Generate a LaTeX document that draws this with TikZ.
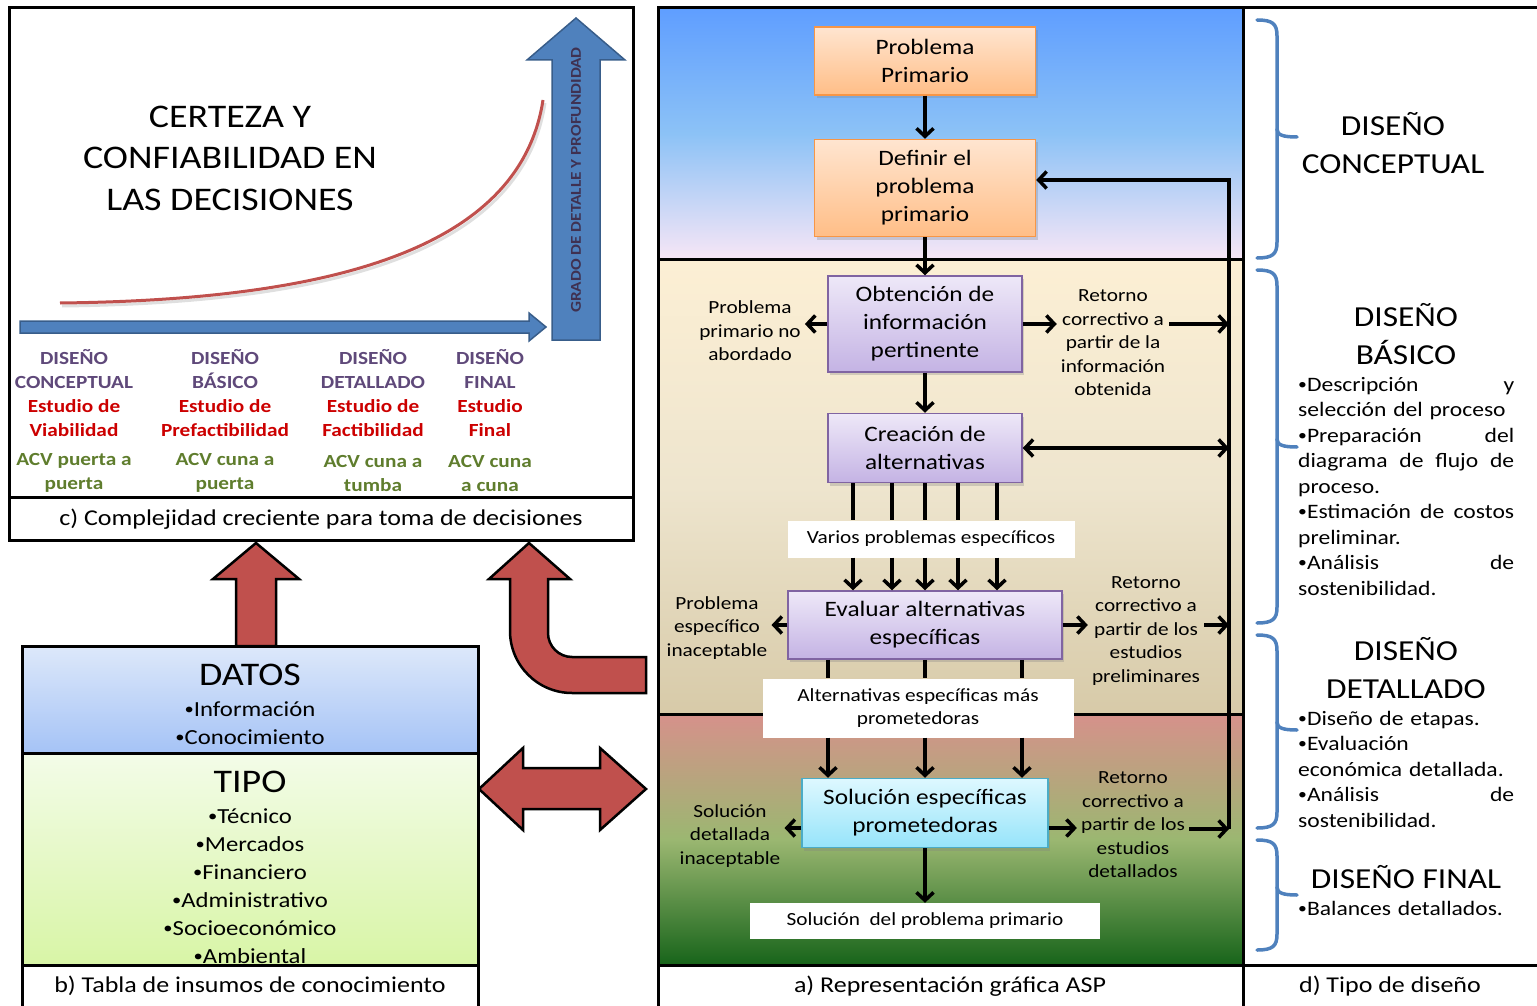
\documentclass[tikz,border=0pt]{standalone}
\usepackage{fontspec}
\setmainfont{Carlito}[FakeStretch=1.15]
\usetikzlibrary{arrows.meta,shadows}

\definecolor{officeblue}{RGB}{79,129,189}
\definecolor{officeblueline}{RGB}{56,93,138}
\definecolor{officered}{RGB}{192,80,77}
\definecolor{labelpurple}{RGB}{95,73,122}
\definecolor{labelred}{RGB}{204,0,0}
\definecolor{labelgreen}{RGB}{95,125,45}
\definecolor{gradepurple}{RGB}{63,49,81}
\definecolor{orangeline}{RGB}{247,150,70}
\definecolor{orangetop}{RGB}{255,229,208}
\definecolor{orangebot}{RGB}{255,190,135}
\definecolor{purpleline}{RGB}{128,100,162}
\definecolor{purpletop}{RGB}{238,232,248}
\definecolor{purplebot}{RGB}{196,179,228}
\definecolor{cyanline}{RGB}{75,172,198}
\definecolor{cyantop}{RGB}{222,248,255}
\definecolor{cyanbot}{RGB}{150,228,250}
\definecolor{skytop}{RGB}{95,158,255}
\definecolor{skymid}{RGB}{140,194,246}
\definecolor{skybot}{RGB}{247,230,246}
\definecolor{sandtop}{RGB}{252,239,212}
\definecolor{sandmid}{RGB}{238,229,206}
\definecolor{sandbot}{RGB}{215,202,168}
\definecolor{rosetop}{RGB}{214,145,139}
\definecolor{grassmid}{RGB}{155,183,113}
\definecolor{grassbot}{RGB}{23,100,26}
\definecolor{datatop}{RGB}{221,232,250}
\definecolor{databot}{RGB}{165,195,246}
\definecolor{typetop}{RGB}{243,252,232}
\definecolor{typebot}{RGB}{216,245,166}

\newcommand{\smallbul}{\raisebox{0.1em}{\scalebox{0.75}{•}}}

\begin{document}
\begin{tikzpicture}[x=1pt, y=-1pt, >={Straight Barb[length=8pt,width=17pt]},
    frame/.style={line width=3pt},
    flow/.style={->, line width=3.5pt},
    link/.style={line width=3.5pt},
    twoway/.style={<->, line width=3.5pt},
    bigarrow/.style={fill=officered, draw=black, line width=2.5pt, line join=miter},
    bluearrow/.style={fill=officeblue, draw=officeblueline, line width=1.5pt},
    brace/.style={draw=officeblue, line width=3.5pt, line cap=round},
    stepbox/.style={rectangle, line width=1.5pt, align=center, inner sep=0pt, font=\fontsize{22}{28}\selectfont, drop shadow={shadow xshift=2pt, shadow yshift=-3pt, opacity=0.3}},
    orangebox/.style={stepbox, draw=orangeline, top color=orangetop, bottom color=orangebot},
    purplebox/.style={stepbox, draw=purpleline, top color=purpletop, bottom color=purplebot},
    cyanbox/.style={stepbox, draw=cyanline, top color=cyantop, bottom color=cyanbot},
    tagbox/.style={rectangle, fill=white, align=center, inner sep=0pt, font=\fontsize{18.5}{23}\selectfont},
    side/.style={align=center, inner sep=4pt, font=\fontsize{18.5}{23.5}\selectfont},
    caption/.style={inner sep=0pt, font=\fontsize{22.6}{26}\selectfont},
    stage/.style={align=center, inner sep=0pt, font=\bfseries\fontsize{18.5}{24}\selectfont},
    heading/.style={align=center, inner sep=0pt, font=\fontsize{29}{37.5}\selectfont},
    bullets/.style={anchor=north west, align=left, text width=216pt, inner sep=0pt, font=\fontsize{20.5}{25.5}\selectfont}]

    \useasboundingbox (0,0) rectangle (1537,1006);
    \clip (0,0) rectangle (1537,1006);

    % Backgrounds.
    \shade[top color=skytop, bottom color=skybot, middle color=skymid] (658,8) rectangle (1243,259);
    \shade[top color=sandtop, bottom color=sandbot, middle color=sandmid] (658,259) rectangle (1243,714);
    \shade[top color=rosetop, bottom color=grassbot, middle color=grassmid] (658,714) rectangle (1243,965);
    \shade[top color=datatop, bottom color=databot] (22,646) rectangle (478,753);
    \shade[top color=typetop, bottom color=typebot] (22,753) rectangle (478,965);

    % Frames.
    \draw[frame] (9,8) rectangle (633,540) (9,497) -- (633,497);
    \draw[frame] (22,646) rectangle (478,1020) (22,753) -- (478,753) (22,965) -- (478,965);
    \draw[frame] (658,8) rectangle (1243,1020);
    \draw[frame] (1243,8) -- (1550,8) (658,259) -- (1243,259) (658,714) -- (1243,714) (658,965) -- (1550,965);

    % Complexity panel.
    \draw[line width=3pt, gray, opacity=0.25] (62,306) .. controls (332,303) and (522,253) .. (545,103);
    \draw[line width=3pt, officered] (60,303) .. controls (330,300) and (520,250) .. (543,100);
    \draw[bluearrow] (20,321) -- (529,321) -- (529,313) -- (546,327) -- (529,341) -- (529,333) -- (20,333) -- cycle;
    \draw[bluearrow] (552,340) -- (552,60) -- (527,60) -- (576,18) -- (625,60) -- (600,60) -- (600,340) -- cycle;
    \node[rotate=90, text=gradepurple, font=\bfseries\fontsize{15}{17}\selectfont] (grade) at (576,180) {GRADO DE DETALLE Y PROFUNDIDAD};
    \node[align=center, font=\fontsize{33}{41.5}\selectfont] (certeza) at (230,158) {CERTEZA Y\\CONFIABILIDAD EN\\LAS DECISIONES};
    \foreach \x/\stagename/\study/\lca in {74/{DISEÑO\\CONCEPTUAL}/{Estudio de\\Viabilidad}/{ACV puerta a\\puerta},
        225/{DISEÑO\\BÁSICO}/{Estudio de\\Prefactibilidad}/{ACV cuna a\\puerta},
        373/{DISEÑO\\DETALLADO}/{Estudio de\\Factibilidad}/{ACV cuna a\\tumba},
        490/{DISEÑO\\FINAL}/{Estudio\\Final}/{ACV cuna\\a cuna}} {
        \node[stage, text=labelpurple] (stage-\x) at (\x,369) {\stagename};
        \node[stage, text=labelred] (study-\x) at (\x,418) {\study};
        \node[stage, text=labelgreen] (lca-\x) at (\x,473) {\lca};
    }
    \node[caption] (cap-c) at (321,519) {c) Complejidad creciente para toma de decisiones};

    % Knowledge table.
    \node[font=\fontsize{33}{35}\selectfont] (datos) at (250,675) {DATOS};
    \node[align=center, font=\fontsize{21.5}{28}\selectfont] (datos-list) at (250,723) {\smallbul Información\\\smallbul Conocimiento};
    \node[font=\fontsize{33}{35}\selectfont] (tipo) at (250,782) {TIPO};
    \node[align=center, font=\fontsize{21.5}{28}\selectfont] (tipo-list) at (250,886) {\smallbul Técnico\\\smallbul Mercados\\\smallbul Financiero\\\smallbul Administrativo\\\smallbul Socioeconómico\\\smallbul Ambiental};
    \node[caption] (cap-b) at (250,986) {b) Tabla de insumos de conocimiento};

    % Big arrows.
    \draw[bigarrow] (236,646) -- (236,579) -- (213,579) -- (256,543) -- (299,579) -- (276,579) -- (276,646) -- cycle;
    \draw[bigarrow] (529,543) -- (570,579) -- (548,579) -- (548,633) .. controls (548,646.2) and (558.8,657) .. (572,657) -- (646,657) -- (646,693) -- (572,693) .. controls (537.8,693) and (510,665.2) .. (510,631) -- (510,579) -- (489,579) -- cycle;
    \draw[bigarrow] (479,789) -- (523,748) -- (523,768) -- (600,768) -- (600,748) -- (646,789) -- (600,830) -- (600,809) -- (523,809) -- (523,830) -- cycle;

    % Flow nodes.
    \node[orangebox, minimum width=221pt, minimum height=68pt] (prob) at (925,61) {Problema\\Primario};
    \node[orangebox, minimum width=221pt, minimum height=97pt] (defin) at (925,188) {Definir el\\problema\\primario};
    \node[purplebox, minimum width=194pt, minimum height=96pt] (obt) at (925,324) {Obtención de\\información\\pertinente};
    \node[purplebox, minimum width=194pt, minimum height=69pt] (crea) at (925,448) {Creación de\\alternativas};
    \node[tagbox, minimum width=287pt, minimum height=37pt] (varios) at (931,539) {Varios problemas específicos};
    \node[purplebox, minimum width=274pt, minimum height=68pt] (eval) at (925,625) {Evaluar alternativas\\específicas};
    \node[tagbox, minimum width=311pt, minimum height=59pt] (alt) at (918,708) {Alternativas específicas más\\prometedoras};
    \node[cyanbox, minimum width=246pt, minimum height=69pt] (sol) at (925,813) {Solución específicas\\prometedoras};
    \node[tagbox, minimum width=350pt, minimum height=36pt] (final) at (925,921) {Solución\ \ del problema primario};

    % Side texts.
    \node[side] (noab) at (750,331) {Problema\\primario no\\abordado};
    \node[side] (ret1) at (1113,343) {Retorno\\correctivo a\\partir de la\\información\\obtenida};
    \node[side] (inac1) at (717,628) {Problema\\específico\\inaceptable};
    \node[side] (ret2) at (1146,631) {Retorno\\correctivo a\\partir de los\\estudios\\preliminares};
    \node[side] (inac2) at (730,836) {Solución\\detallada\\inaceptable};
    \node[side] (ret3) at (1133,825) {Retorno\\correctivo a\\partir de los\\estudios\\detallados};

    % Feedback line.
    \coordinate (fbtop) at (1229,180);
    \coordinate (fbbot) at (1229,829);
    \draw[flow] (fbbot) -- (fbtop) -- (fbtop -| defin.east);

    % Flow connections.
    \draw[flow] (prob) -- (defin);
    \draw[flow] (defin) -- (obt);
    \draw[flow] (obt) -- (crea);
    \draw[flow] (obt.west) -- (obt.west -| noab.east);
    \draw[flow] (obt.east) -- (obt.east -| ret1.west);
    \draw[flow] (ret1.east |- obt.east) -- (fbtop |- obt.east);
    \draw[twoway] (crea.east) -- (fbtop |- crea.east);
    \foreach \dx in {-72,-33,0,33,72} {
        \draw[link] ([xshift=\dx pt]crea.south) -- ([xshift=\dx pt]crea.south |- varios.north);
        \draw[flow] ([xshift=\dx pt]crea.south |- varios.south) -- ([xshift=\dx pt]crea.south |- eval.north);
    }
    \draw[flow] (eval.west) -- (eval.west -| inac1.east);
    \draw[flow] (eval.east) -- (eval.east -| ret2.west);
    \draw[flow] (ret2.east |- eval.east) -- (fbtop |- eval.east);
    \foreach \dx in {-97,0,97} {
        \draw[link] ([xshift=\dx pt]eval.south) -- ([xshift=\dx pt]eval.south |- alt.north);
        \draw[flow] ([xshift=\dx pt]eval.south |- alt.south) -- ([xshift=\dx pt]eval.south |- sol.north);
    }
    \draw[flow] ([yshift=-15pt]sol.west) -- ([yshift=-15pt]sol.west -| inac2.east);
    \draw[flow] ([yshift=-15pt]sol.east) -- ([yshift=-15pt]sol.east -| ret3.west);
    \draw[flow] (ret3.east |- fbbot) -- (fbbot);
    \draw[flow] (sol) -- (final);
    \node[caption] (cap-a) at (950,986) {a) Representación gráfica ASP};

    % Design types.
    \foreach \bracetop/\bracetip/\bracebot in {20/137/258, 270/447/623, 635/730/828, 840/895/950} {
        \draw[brace] (1257,\bracetop) .. controls (1273,\bracetop) and (1277,{\bracetop+4}) .. (1277,{\bracetop+16}) -- (1277,{\bracebot-16}) .. controls (1277,{\bracebot-4}) and (1273,\bracebot) .. (1257,\bracebot);
        \draw[brace] (1277,{\bracetip-8}) .. controls (1277,{\bracetip-2}) and (1283,\bracetip) .. (1297,\bracetip);
    }
    \node[heading] (conceptual) at (1393,143) {DISEÑO\\CONCEPTUAL};
    \node[heading] (basico) at (1406,334) {DISEÑO\\BÁSICO};
    \node[bullets] (basico-list) at (1298,377) {\makebox[216pt]{\smallbul Descripción\hfill y}\\selección del proceso\\\makebox[216pt]{\smallbul Preparación\hfill del}\\\makebox[216pt]{diagrama\hfill de\hfill flujo\hfill de}\\proceso.\\\makebox[216pt]{\smallbul Estimación\hfill de\hfill costos}\\preliminar.\\\makebox[216pt]{\smallbul Análisis\hfill de}\\sostenibilidad.};
    \node[heading] (detallado) at (1406,668) {DISEÑO\\DETALLADO};
    \node[bullets] (detallado-list) at (1298,711) {\smallbul Diseño de etapas.\\\smallbul Evaluación\\económica detallada.\\\makebox[216pt]{\smallbul Análisis\hfill de}\\sostenibilidad.};
    \node[heading] (final-d) at (1406,877) {DISEÑO FINAL};
    \node[bullets] (final-list) at (1298,901) {\smallbul Balances detallados.};
    \node[caption] (cap-d) at (1390,986) {d) Tipo de diseño};

\end{tikzpicture}
\end{document}
